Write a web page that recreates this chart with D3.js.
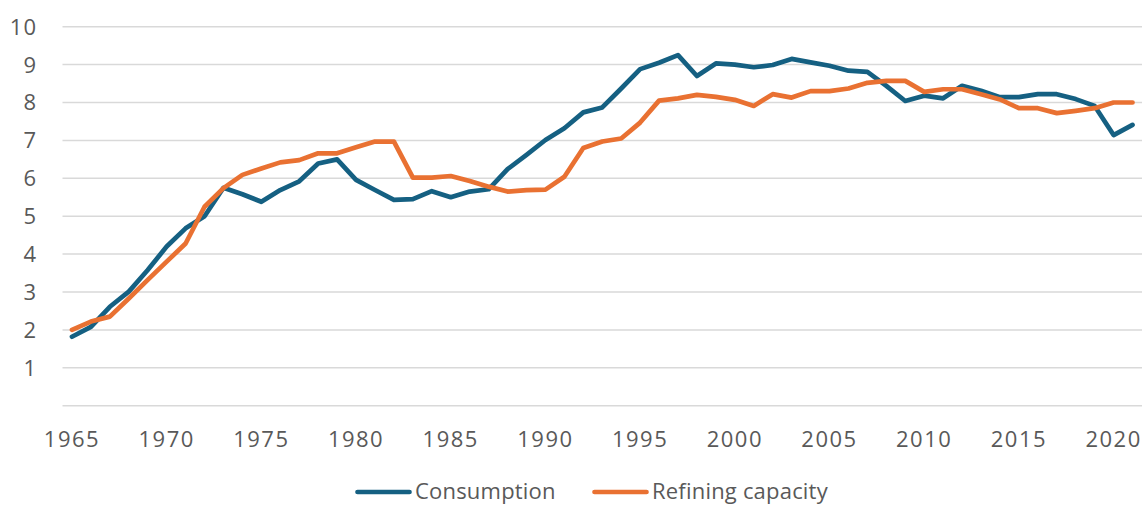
<!DOCTYPE html>
<html>
<head>
<meta charset="utf-8">
<script src="https://cdn.jsdelivr.net/npm/d3@7"></script>
<style>
  body { margin: 0; background: #fff; }
  svg { display: block; font-family: "Open Sans", "Liberation Sans", sans-serif; }
</style>
</head>
<body>
<svg id="chart" width="1144" height="505"></svg>
<script>
(function () {
// data
var years = d3.range(1965, 2022);
var consumption = [1.82, 2.08, 2.61, 3.01, 3.58, 4.2, 4.68, 5.0, 5.75, 5.58, 5.38, 5.69, 5.92,
  6.39, 6.5, 5.96, 5.69, 5.43, 5.45, 5.66, 5.5, 5.65, 5.71, 6.24, 6.62, 7.01, 7.32,
  7.74, 7.87, 8.37, 8.88, 9.05, 9.25, 8.7, 9.03, 9.0, 8.93, 8.99, 9.15, 9.06, 8.97,
  8.84, 8.81, 8.44, 8.04, 8.18, 8.11, 8.44, 8.31, 8.14, 8.14, 8.22, 8.22, 8.09, 7.91, 7.14, 7.41];
var refining = [2.0, 2.22, 2.35, 2.83, 3.32, 3.8, 4.28, 5.25, 5.74, 6.09, 6.26, 6.42, 6.48,
  6.66, 6.66, 6.82, 6.97, 6.97, 6.02, 6.02, 6.06, 5.93, 5.78, 5.65, 5.69, 5.7, 6.04,
  6.8, 6.97, 7.05, 7.47, 8.05, 8.11, 8.2, 8.15, 8.07, 7.91, 8.22, 8.13, 8.3, 8.3,
  8.37, 8.52, 8.57, 8.57, 8.28, 8.35, 8.35, 8.22, 8.08, 7.85, 7.85, 7.72, 7.78, 7.85, 8.0, 8.0];
var yTicks = [1, 2, 3, 4, 5, 6, 7, 8, 9, 10];
var xLabels = [1965, 1970, 1975, 1980, 1985, 1990, 1995, 2000, 2005, 2010, 2015, 2020];
var seriesNames = ["Consumption", "Refining capacity"];
var colors = ["#156082", "#E97132"];

var svg = d3.select("#chart");

var x = d3.scaleBand()
  .domain(years)
  .range([62.5, 1142]);
var y = d3.scaleLinear()
  .domain([0, 10])
  .range([405.7, 26.7]);

function cx(d) { return x(d) + x.bandwidth() / 2 }

// gridlines, 0 line doubles as the category axis
svg.selectAll(".grid")
  .data([0].concat(yTicks))
  .enter()
  .append("line")
  .attr("x1", 62.5)
  .attr("x2", 1142)
  .attr("y1", function (d) { return y(d) })
  .attr("y2", function (d) { return y(d) })
  .style("stroke", "#d9d9d9")
  .style("stroke-width", 1.5)

// y labels
svg.selectAll(".ylab")
  .data(yTicks)
  .enter()
  .append("text")
  .attr("x", 37)
  .attr("y", function (d) { return y(d) })
  .attr("dy", "0.36em")
  .attr("text-anchor", "end")
  .style("font-size", "22px")
  .style("letter-spacing", "1px")
  .style("fill", "#595959")
  .text(function (d) { return d })

// x labels
svg.selectAll(".xlab")
  .data(xLabels)
  .enter()
  .append("text")
  .attr("x", function (d) { return cx(d) })
  .attr("y", 438.8)
  .attr("dy", "0.36em")
  .attr("text-anchor", "middle")
  .style("font-size", "22px")
  .style("letter-spacing", "1.5px")
  .style("fill", "#595959")
  .text(function (d) { return d })

var line = d3.line()
  .x(function (d, i) { return cx(years[i]) })
  .y(function (d) { return y(d) });

svg.selectAll(".series")
  .data([consumption, refining])
  .enter()
  .append("path")
  .attr("d", function (d) { return line(d) })
  .style("fill", "none")
  .style("stroke", function (d, i) { return colors[i] })
  .style("stroke-width", 4.7)
  .style("stroke-linejoin", "round")
  .style("stroke-linecap", "round")

// legend
var legendX = [357.5, 594.5];
var legend = svg.selectAll(".legend")
  .data(seriesNames)
  .enter()
  .append("g")
  .attr("transform", function (d, i) { return "translate(" + legendX[i] + ",492)" })

legend.append("line")
  .attr("x1", 0)
  .attr("x2", 52)
  .style("stroke", function (d, i) { return colors[i] })
  .style("stroke-width", 4.7)
  .style("stroke-linecap", "round")

legend.append("text")
  .attr("x", 57.5)
  .attr("y", -1)
  .attr("dy", "0.36em")
  .style("font-size", "22px")
  .style("letter-spacing", "0.2px")
  .style("fill", "#595959")
  .text(function (d) { return d })
})();
</script>
</body>
</html>
